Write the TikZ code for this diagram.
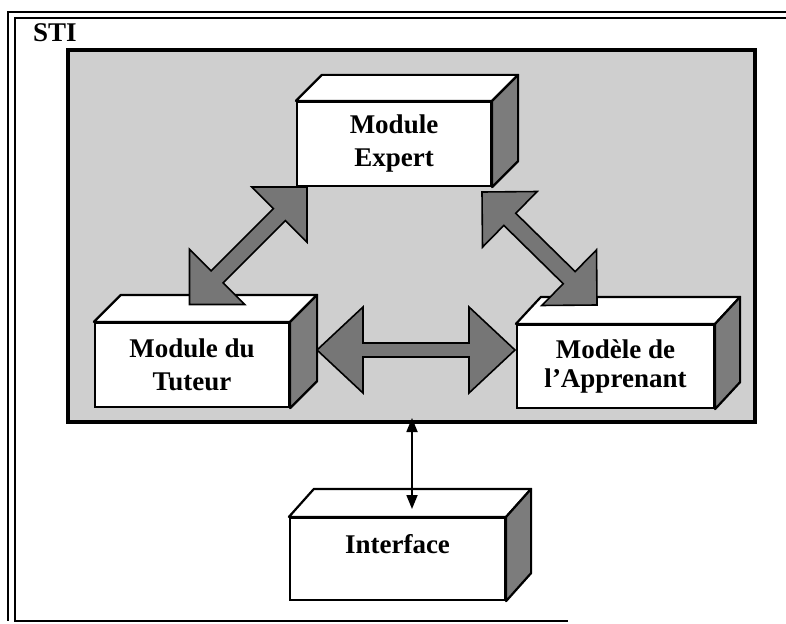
\documentclass[tikz,border=0pt]{standalone}
\usepackage{fontspec}
\setmainfont{Liberation Serif}
\usetikzlibrary{calc,arrows.meta}
\definecolor{panelgray}{HTML}{CFCFCF}
\definecolor{sidegray}{HTML}{7C7C7C}
\definecolor{arrowgray}{HTML}{767676}
\tikzset{
 frameline/.style={line width=1.6pt},
 panelbox/.style={draw, line width=3.5pt, fill=panelgray, inner sep=0pt},
 frontface/.style={draw, line width=2.2pt, fill=white, inner sep=0pt, align=center, font=\fontsize{27}{33}\selectfont\bfseries},
 topface/.style={draw, line width=2.2pt, fill=white, line join=round},
 sideface/.style={draw, line width=2.2pt, fill=sidegray, line join=round},
 bigarrow/.style={draw, line width=1.6pt, fill=arrowgray, line join=miter},
 thinarrow/.style={line width=1.8pt, {Triangle[length=14pt,width=11pt]}-{Triangle[length=14pt,width=11pt]}},
}
\newcommand\cuboid[3]{%
  \draw[topface] (#1.north west) -- ++(#2,-#3) -- ($(#1.north east)+(#2,-#3)$) -- (#1.north east) -- cycle;
  \draw[sideface] (#1.north east) -- ++(#2,-#3) -- ($(#1.south east)+(#2,-#3)$) -- (#1.south east) -- cycle;
}
\newcommand\blockarrow[5]{%
 \draw[bigarrow] (#1)
  -- ($(#1)!#4!(#2)!#5!90:(#2)$)
  -- ($(#1)!#4!(#2)!#3!90:(#2)$)
  -- ($(#2)!#4!(#1)!#3!-90:(#1)$)
  -- ($(#2)!#4!(#1)!#5!-90:(#1)$)
  -- (#2)
  -- ($(#2)!#4!(#1)!#5!90:(#1)$)
  -- ($(#2)!#4!(#1)!#3!90:(#1)$)
  -- ($(#1)!#4!(#2)!#3!-90:(#2)$)
  -- ($(#1)!#4!(#2)!#5!-90:(#2)$)
  -- cycle;}
\begin{document}
\begin{tikzpicture}[x=1pt,y=-1pt]
\useasboundingbox (0,0) rectangle (786,623);
\fill[white] (0,0) rectangle (786,623);
% outer frame
\draw[frameline] (790,12) -- (8,12) -- (8,621);
\draw[frameline] (790,18) -- (15,18) -- (15,621) -- (568,621);
\node[font=\fontsize{27}{33}\selectfont\bfseries, anchor=base west, inner sep=0pt] (sti) at (33,42) {STI};
% panel
\node[panelbox, minimum width=687pt, minimum height=372pt] (panel) at (411.5,236) {};
% boxes
\node[frontface, minimum width=194pt, minimum height=84pt] (expert) at (394,144) {Module\\Expert};
\cuboid{expert}{26}{26}
\node[frontface, minimum width=194pt, minimum height=84pt] (tuteur) at (192,365) {Module du\\Tuteur};
\cuboid{tuteur}{27}{27}
\node[frontface, minimum width=197pt, minimum height=83pt, font=\fontsize{27}{29}\selectfont\bfseries] (apprenant) at (615.5,366.5) {Modèle de\\l’Apprenant};
\cuboid{apprenant}{25}{27}
\node[frontface, minimum width=215pt, minimum height=82pt, text depth=30pt] (interface) at (397.5,559) {Interface};
\cuboid{interface}{25}{28}
% big arrows
\coordinate (a1s) at (307,187); \coordinate (a1e) at (189.5,304.5);
\coordinate (a2s) at (482,192); \coordinate (a2e) at (597,305);
\coordinate (a3s) at (317,350); \coordinate (a3e) at (515,350);
\blockarrow{a1s}{a1e}{8.5pt}{39pt}{39pt}
\blockarrow{a2s}{a2e}{8.5pt}{39pt}{39pt}
\blockarrow{a3s}{a3e}{7pt}{46pt}{43pt}
% thin arrow
\coordinate (t1) at (412,418);
\coordinate (t2) at (412,509);
\draw[thinarrow] (t1) -- (t2);
\end{tikzpicture}
\end{document}
